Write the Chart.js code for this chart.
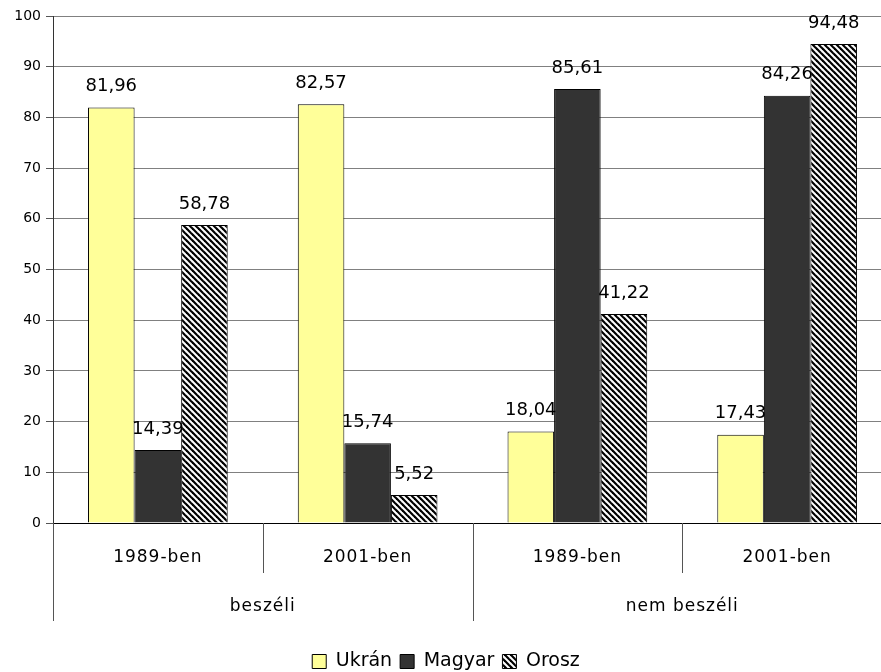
<!DOCTYPE html>
<html>
<head>
<meta charset="utf-8">
<script src="https://cdn.jsdelivr.net/npm/chart.js@4.4.1/dist/chart.umd.min.js"></script>
<style>
  html, body { margin: 0; padding: 0; background: #fff; overflow: hidden; }
  #wrap { width: 895px; height: 672px; position: relative; }
</style>
</head>
<body>
<div id="wrap"><canvas id="chart"></canvas></div>
<script>
  /* Data */
  var yearLabels = ['1989-ben', '2001-ben', '1989-ben', '2001-ben'];
  var groupLabels = ['beszéli', 'nem beszéli'];
  var seriesNames = ['Ukrán', 'Magyar', 'Orosz'];
  var ukranValues = [81.96, 82.57, 18.04, 17.43];
  var magyarValues = [14.39, 15.74, 85.61, 84.26];
  var oroszValues = [58.78, 5.52, 41.22, 94.48];
  var yTicks = [0, 10, 20, 30, 40, 50, 60, 70, 80, 90, 100];

  var FONT = "'DejaVu Sans', sans-serif";

  // diagonal stripes for the Orosz series
  function makeHatch() {
    var c = document.createElement('canvas');
    c.width = 6; c.height = 6;
    var g = c.getContext('2d');
    g.fillStyle = '#fff';
    g.fillRect(0, 0, 6, 6);
    g.strokeStyle = '#000';
    g.lineWidth = 2.2;
    [-6, 0, 6].forEach(function (o) {
      g.beginPath();
      g.moveTo(o - 1, -1);
      g.lineTo(o + 7, 7);
      g.stroke();
    });
    return g.createPattern(c, 'repeat');
  }
  var hatch = makeHatch();

  function fmt(v) { return v.toFixed(2).replace('.', ','); }

  var valueLabels = {
    id: 'valueLabels',
    afterDatasetsDraw: function (chart) {
      var ctx = chart.ctx;
      ctx.save();
      ctx.font = '18px ' + FONT;
      ctx.fillStyle = '#000';
      ctx.textAlign = 'center';
      ctx.textBaseline = 'bottom';
      chart.data.datasets.forEach(function (ds, i) {
        chart.getDatasetMeta(i).data.forEach(function (bar, j) {
          ctx.fillText(fmt(ds.data[j]), bar.x, bar.y - 12);
        });
      });
      ctx.restore();
    }
  };

  // two-level category axis drawn under the plot
  var groupAxis = {
    id: 'groupAxis',
    afterDraw: function (chart) {
      var ctx = chart.ctx;
      var x = chart.scales.x;
      var bottom = chart.chartArea.bottom;
      var step = x.getPixelForValue(1) - x.getPixelForValue(0);
      ctx.save();
      ctx.strokeStyle = '#555';
      ctx.lineWidth = 1;
      for (var i = 0; i <= yearLabels.length; i++) {
        var px = Math.round(x.getPixelForValue(i) - step / 2) + 0.5;
        var len = (i % 2 === 0) ? 98 : 50;
        ctx.beginPath();
        ctx.moveTo(px, bottom);
        ctx.lineTo(px, bottom + len);
        ctx.stroke();
      }
      ctx.fillStyle = '#000';
      ctx.textAlign = 'center';
      ctx.textBaseline = 'middle';
      ctx.font = '17px ' + FONT;
      ctx.letterSpacing = '1px';
      yearLabels.forEach(function (l, i) {
        ctx.fillText(l, x.getPixelForValue(i), bottom + 35);
      });
      groupLabels.forEach(function (l, i) {
        var cx = (x.getPixelForValue(i * 2) + x.getPixelForValue(i * 2 + 1)) / 2;
        ctx.fillText(l, cx, bottom + 84);
      });
      ctx.restore();
    }
  };

  new Chart(document.getElementById('chart'), {
    type: 'bar',
    data: {
      labels: yearLabels,
      datasets: [
        { label: seriesNames[0], data: ukranValues, backgroundColor: '#ffff99', borderColor: '#000', borderWidth: 1 },
        { label: seriesNames[1], data: magyarValues, backgroundColor: '#333333', borderColor: '#000', borderWidth: 1 },
        { label: seriesNames[2], data: oroszValues, backgroundColor: hatch, borderColor: '#000', borderWidth: 1 }
      ]
    },
    options: {
      responsive: true,
      maintainAspectRatio: false,
      animation: false,
      datasets: { bar: { categoryPercentage: 0.666, barPercentage: 1 } },
      layout: { padding: { top: 16, right: 3, left: 0, bottom: -9 } },
      plugins: {
        tooltip: { enabled: false },
        legend: {
          position: 'bottom',
          labels: {
            color: '#000',
            font: { family: FONT, size: 19 },
            boxWidth: 14,
            boxHeight: 14,
            padding: 8
          }
        }
      },
      scales: {
        x: {
          grid: { display: false },
          border: { color: '#000' },
          ticks: { display: false },
          afterFit: function (s) { s.height = 121; }
        },
        y: {
          min: 0,
          max: 100,
          afterBuildTicks: function (s) { s.ticks = yTicks.map(function (v) { return { value: v }; }); },
          afterFit: function (s) { s.width = 53; },
          grid: { color: '#808080', tickColor: '#555', tickLength: 7 },
          border: { color: '#333' },
          ticks: { color: '#000', font: { family: FONT, size: 14 }, padding: 5 }
        }
      }
    },
    plugins: [valueLabels, groupAxis]
  });
</script>
</body>
</html>
